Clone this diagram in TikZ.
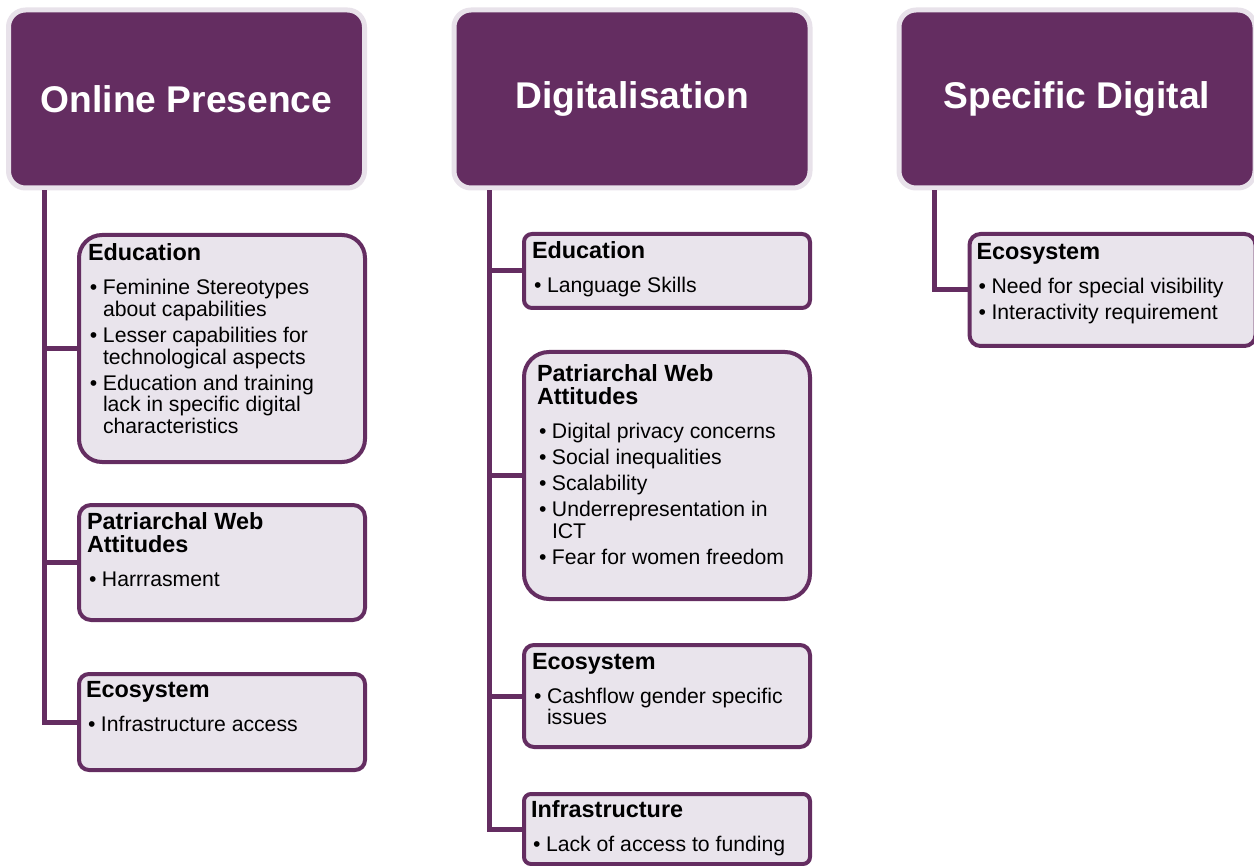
\documentclass[tikz,border=0pt]{standalone}
\usepackage{fontspec}
\setmainfont{Liberation Sans}
\definecolor{plum}{RGB}{100,45,97}
\definecolor{plumrim}{RGB}{232,226,234}
\definecolor{plumtint}{RGB}{233,228,236}
\newcommand{\hfnt}{\fontsize{11.7}{11.5}\selectfont\bfseries}
\newcommand{\bfnt}{\fontsize{10.6}{10.8}\selectfont}
\newcommand{\itm}[1]{\par\hangindent=7.5pt\hangafter=1\noindent\hspace*{1pt}\makebox[6.5pt][l]{\textbullet}#1}
\newcommand{\leaftext}[4]{\parbox[c][#2][t]{#1}{\raggedright\setlength{\parskip}{2.2pt}{\hfnt #3\par}\vspace{4pt}\bfnt #4\par}}
\begin{document}
\begin{tikzpicture}[x=0.5pt, y=-0.5pt, line join=miter,
	head/.style={draw=plumrim, line width=2.5pt, fill=plum, rounded corners=8.5pt, text=white, font=\fontsize{18.6}{20}\selectfont\bfseries, minimum width=178pt, minimum height=89pt, inner sep=0pt},
	leaf/.style={draw=plum, line width=2pt, fill=plumtint, minimum width=143pt},
	link/.style={draw=plum, line width=2.5pt}]
	\useasboundingbox (0,0) rectangle (1254,866);
	% column heads
	\node[head] (h1) at (186.5,99) {Online Presence};
	\node[head] (h2) at (632,99) {Digitalisation};
	\node[head] (h3) at (1077,99) {Specific Digital};
	% first column
	\node[leaf, rounded corners=11.5pt, inner sep=4.5pt] (a1) at (222,348.5) {\leaftext{134pt}{104.5pt}{Education}{%
		\itm{Feminine Stereotypes\newline about capabilities}%
		\itm{Lesser capabilities for\newline technological aspects}%
		\itm{Education and training\newline lack in specific digital\newline characteristics}}};
	\node[leaf, rounded corners=6pt, inner sep=4pt] (a2) at (222,562.5) {\leaftext{135pt}{49.5pt}{Patriarchal Web\newline Attitudes}{%
		\itm{Harrrasment}}};
	\node[leaf, rounded corners=5pt, inner sep=3.5pt] (a3) at (222,722) {\leaftext{136pt}{41pt}{Ecosystem}{%
		\itm{Infrastructure access}}};
	% second column
	\node[leaf, rounded corners=4pt, inner sep=4pt] (b1) at (667,271) {\leaftext{135pt}{29pt}{Education}{%
		\itm{Language Skills}}};
	\node[leaf, rounded corners=12.5pt, inner sep=6.5pt] (b2) at (667,475.5) {\leaftext{130pt}{110.5pt}{Patriarchal Web\newline Attitudes}{%
		\itm{Digital privacy concerns}%
		\itm{Social inequalities}%
		\itm{Scalability}%
		\itm{Underrepresentation in\newline ICT}%
		\itm{Fear for women freedom}}};
	\node[leaf, rounded corners=5pt, inner sep=4pt] (b3) at (667,696) {\leaftext{135pt}{43pt}{Ecosystem}{%
		\itm{Cashflow gender specific\newline issues}}};
	\node[leaf, rounded corners=3.5pt, inner sep=3.5pt] (b4) at (667,829) {\leaftext{136pt}{28pt}{Infrastructure}{%
		\itm{Lack of access to funding}}};
	% third column
	\node[leaf, rounded corners=5.5pt, inner xsep=3.5pt, inner ysep=4.5pt] (c1) at (1112.5,290) {\leaftext{136pt}{47pt}{Ecosystem}{%
		\itm{Need for special visibility}%
		\itm{Interactivity requirement}}};
	% connectors
	\coordinate (t1) at ([xshift=19pt]h1.south west);
	\coordinate (t2) at ([xshift=19pt]h2.south west);
	\coordinate (t3) at ([xshift=19pt]h3.south west);
	\foreach \c in {a1,a2,a3}{\draw[link] (t1) |- (\c.west);}
	\foreach \c in {b1,b2,b3,b4}{\draw[link] (t2) |- (\c.west);}
	\draw[link] (t3) |- (c1.west);
\end{tikzpicture}
\end{document}
